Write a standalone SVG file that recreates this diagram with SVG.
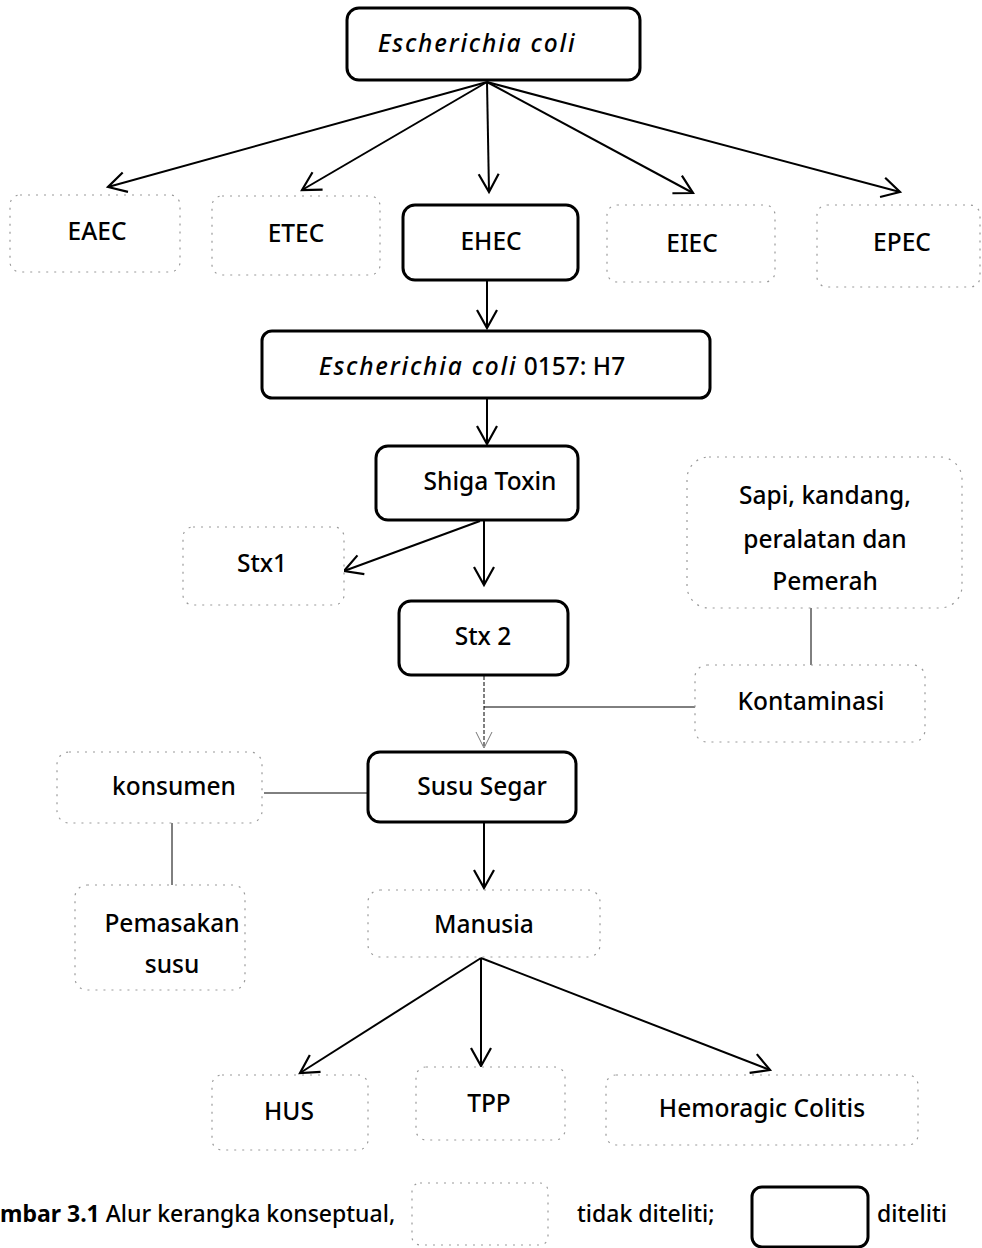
<svg xmlns="http://www.w3.org/2000/svg" width="982" height="1248" viewBox="0 0 982 1248">
<style>
text{font-family:"Noto Sans","Liberation Sans",sans-serif;font-size:24.5px;font-weight:500;fill:#000;text-anchor:middle}
.s{fill:#fff;stroke:#000;stroke-width:3}
.d{fill:#fff;stroke:#9a9a9a;stroke-width:1.2;stroke-dasharray:2 6}
.c{fill:none;stroke:#000;stroke-width:2}
.t{fill:none;stroke:#000;stroke-width:1}
.i{font-style:italic;letter-spacing:1.8px}
</style>
<defs>
<marker id="a" markerUnits="userSpaceOnUse" markerWidth="24" markerHeight="24" refX="20" refY="12" orient="auto">
<path d="M2,2 L20,12 L2,22" fill="none" stroke="#000" stroke-width="2.2"/>
</marker>
<marker id="b" markerUnits="userSpaceOnUse" markerWidth="24" markerHeight="24" refX="20" refY="12" orient="auto">
<path d="M4,4 L20,12 L4,20" fill="none" stroke="#777" stroke-width="1"/>
</marker>
</defs>
<g id="connectors">
<line class="c" x1="487" y1="82" x2="108" y2="187" marker-end="url(#a)"/>
<line class="c" x1="487" y1="82" x2="302" y2="190" marker-end="url(#a)"/>
<line class="c" x1="487" y1="82" x2="489" y2="192" marker-end="url(#a)"/>
<line class="c" x1="487" y1="82" x2="693" y2="193" marker-end="url(#a)"/>
<line class="c" x1="487" y1="82" x2="900" y2="192" marker-end="url(#a)"/>
<line class="c" x1="487" y1="281" x2="487" y2="328" marker-end="url(#a)"/>
<line class="c" x1="487" y1="399" x2="487" y2="444" marker-end="url(#a)"/>
<line class="c" x1="480" y1="521" x2="344" y2="571" marker-end="url(#a)"/>
<line class="c" x1="484" y1="521" x2="484" y2="585" marker-end="url(#a)"/>
<line class="t" x1="484" y1="676" x2="484" y2="748" stroke-dasharray="4 2" marker-end="url(#b)"/>
<line class="t" x1="484" y1="707" x2="710" y2="707"/>
<line class="t" x1="811" y1="608" x2="811" y2="667"/>
<line class="t" x1="264" y1="793" x2="368" y2="793"/>
<line class="t" x1="172" y1="823" x2="172" y2="885"/>
<line class="c" x1="484" y1="823" x2="484" y2="888" marker-end="url(#a)"/>
<line class="c" x1="481" y1="958" x2="300" y2="1073" marker-end="url(#a)"/>
<line class="c" x1="481" y1="958" x2="481" y2="1066" marker-end="url(#a)"/>
<line class="c" x1="481" y1="958" x2="770" y2="1070" marker-end="url(#a)"/>
</g>
<g id="ecoli"><rect class="s" x="347" y="8" width="293" height="72" rx="12"/><text class="i" x="477" y="52">Escherichia coli</text></g>
<g id="eaec"><rect class="d" x="10" y="195" width="170" height="77" rx="10"/><text x="97" y="240">EAEC</text></g>
<g id="etec"><rect class="d" x="212" y="196" width="168" height="79" rx="10"/><text x="296" y="242">ETEC</text></g>
<g id="ehec"><rect class="s" x="403" y="205" width="175" height="75" rx="12"/><text x="491" y="250">EHEC</text></g>
<g id="eiec"><rect class="d" x="607" y="205" width="168" height="77" rx="10"/><text x="692" y="252">EIEC</text></g>
<g id="epec"><rect class="d" x="817" y="205" width="163" height="82" rx="10"/><text x="902" y="251">EPEC</text></g>
<g id="o157"><rect class="s" x="262" y="331" width="448" height="67" rx="10"/><text x="472" y="375"><tspan class="i">Escherichia coli</tspan> 0157: H7</text></g>
<g id="shiga"><rect class="s" x="376" y="446" width="202" height="74" rx="12"/><text x="490" y="490">Shiga Toxin</text></g>
<g id="stx1"><rect class="d" x="183" y="527" width="161" height="78" rx="10"/><text x="262" y="572">Stx1</text></g>
<g id="stx2"><rect class="s" x="399" y="601" width="169" height="74" rx="12"/><text x="483" y="645">Stx 2</text></g>
<g id="sapi"><rect class="d" x="687" y="457" width="275" height="151" rx="22"/><text x="825" y="504">Sapi, kandang,</text><text x="825" y="548">peralatan  dan</text><text x="825" y="590">Pemerah</text></g>
<g id="kontaminasi"><rect class="d" x="695" y="665" width="230" height="77" rx="12"/><text x="811" y="710">Kontaminasi</text></g>
<g id="konsumen"><rect class="d" x="57" y="752" width="205" height="71" rx="12"/><text x="174" y="795">konsumen</text></g>
<g id="susu"><rect class="s" x="368" y="752" width="208" height="70" rx="12"/><text x="482" y="795">Susu Segar</text></g>
<g id="pemasakan"><rect class="d" x="75" y="885" width="170" height="105" rx="12"/><text x="172" y="932">Pemasakan</text><text x="172" y="973">susu</text></g>
<g id="manusia"><rect class="d" x="368" y="890" width="232" height="67" rx="12"/><text x="484" y="933">Manusia</text></g>
<g id="hus"><rect class="d" x="212" y="1075" width="156" height="75" rx="10"/><text x="289" y="1120">HUS</text></g>
<g id="tpp"><rect class="d" x="416" y="1067" width="149" height="73" rx="10"/><text x="489" y="1112">TPP</text></g>
<g id="hemoragic"><rect class="d" x="606" y="1075" width="312" height="70" rx="10"/><text x="762" y="1117">Hemoragic Colitis</text></g>
<g id="legend">
<text x="0" y="1222" style="text-anchor:start;font-size:23px"><tspan font-weight="bold">mbar 3.1</tspan> Alur kerangka konseptual,</text>
<rect class="d" x="412" y="1183" width="136" height="62" rx="8"/>
<text x="577" y="1222" style="text-anchor:start;font-size:23px">tidak diteliti;</text>
<rect class="s" x="752" y="1187" width="116" height="60" rx="10"/>
<text x="877" y="1222" style="text-anchor:start;font-size:23px">diteliti</text>
</g>
</svg>
